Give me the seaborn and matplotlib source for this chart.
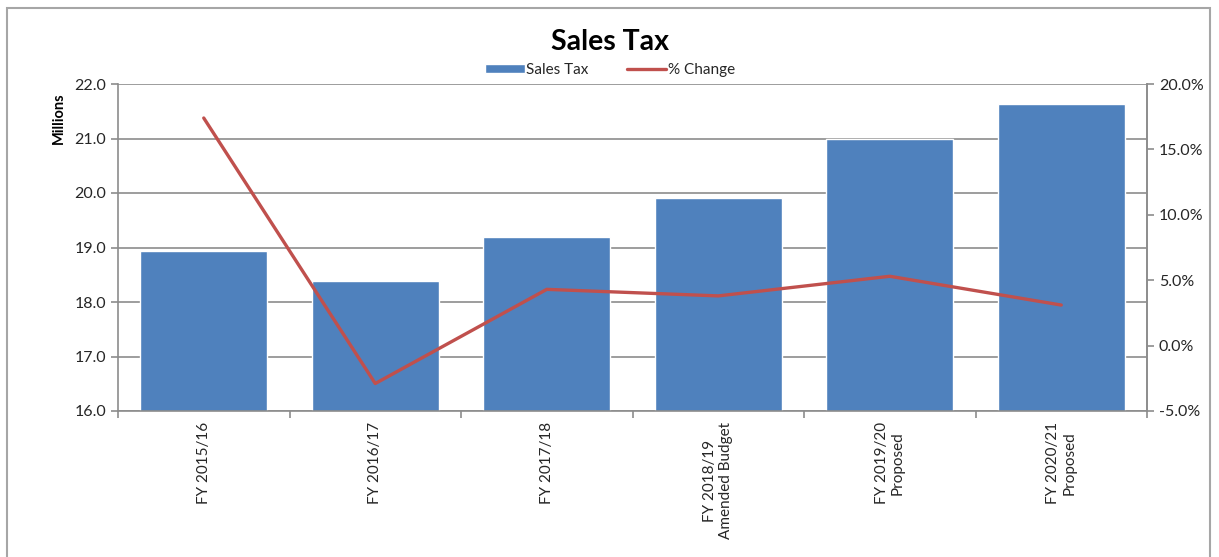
import matplotlib
matplotlib.use("Agg")
import matplotlib.pyplot as plt
import numpy as np
import pandas as pd
import seaborn as sns
from matplotlib.patches import Rectangle
from matplotlib.ticker import FuncFormatter

categories = [
    "FY 2015/16",
    "FY 2016/17",
    "FY 2017/18",
    "FY 2018/19\nAmended Budget",
    "FY 2019/20\nProposed",
    "FY 2020/21\nProposed",
]
sales_tax = [18.93, 18.39, 19.19, 19.91, 20.99, 21.63]
pct_change = [17.4, -2.9, 4.3, 3.8, 5.3, 3.1]

sns.set_theme(style="white")
plt.rcParams["font.family"] = ["Lato", "DejaVu Sans"]

df = pd.DataFrame({"Year": categories, "Sales Tax": sales_tax, "% Change": pct_change})

bar_color = "#4F81BD"
line_color = "#C0504D"
grid_color = "#8C8C8C"
text_color = "#262626"

fig = plt.figure(figsize=(12.19, 5.57), dpi=100)
fig.patch.set_facecolor("white")

# outer chart frame
fig.patches.append(Rectangle((7 / 1219, -0.05), 1203 / 1219, 1 - 8 / 557 + 0.05,
                             transform=fig.transFigure, fill=False,
                             edgecolor="#A6A6A6", linewidth=1.5))

ax = fig.add_axes([118 / 1219, 1 - 411 / 557, 1029 / 1219, 327 / 557])
sns.barplot(data=df, x="Year", y="Sales Tax", color=bar_color, width=0.74,
            saturation=1, ax=ax, label="Sales Tax")
ax.set_ylim(16, 22)
ax.set_xlim(-0.5, 5.5)
ax.set_yticks(np.arange(16, 22.1, 1))
ax.yaxis.set_major_formatter(FuncFormatter(lambda v, p: f"{v:.1f}"))
ax.grid(axis="y", color=grid_color, linewidth=1.2)
ax.set_axisbelow(True)
ax.set_xlabel("")
ax.set_ylabel("Millions", fontsize=10.5, fontweight="bold", color="black")
ax.yaxis.set_label_coords(-52 / 1029, 1 - 34 / 327)

ax.set_xticks(range(len(categories)))
ax.set_xticklabels(categories, rotation=90, fontsize=11, color=text_color,
                   multialignment="center")
ax.set_xticks(np.arange(-0.5, len(categories), 1), minor=True)
ax.tick_params(axis="x", which="major", length=0, pad=8)
ax.tick_params(axis="x", which="minor", length=5, color=grid_color, width=1.2,
               direction="out", bottom=True)
ax.tick_params(axis="y", length=5, color=grid_color, width=1.2, direction="out",
               left=True, labelsize=11.5, labelcolor=text_color)
for side in ["left", "bottom", "right", "top"]:
    ax.spines[side].set_color(grid_color)
    ax.spines[side].set_linewidth(1.2)
ax.spines["top"].set_visible(False)

ax2 = ax.twinx()
sns.lineplot(data=df, x="Year", y="% Change", color=line_color, linewidth=2.4,
             ax=ax2, label="% Change", sort=False)
ax2.set_ylim(-5, 20)
ax2.set_yticks(np.arange(-5, 20.1, 5))
ax2.yaxis.set_major_formatter(FuncFormatter(lambda v, p: f"{v:.1f}%"))
ax2.set_ylabel("")
ax2.tick_params(axis="y", length=5, color=grid_color, width=1.2, direction="out",
                right=True, labelsize=11.5, labelcolor=text_color)
for side in ["left", "bottom", "right", "top"]:
    ax2.spines[side].set_visible(False)
ax2.spines["right"].set_visible(True)
ax2.spines["right"].set_color(grid_color)
ax2.spines["right"].set_linewidth(1.2)
ax2.set_xlim(-0.5, 5.5)

h1, l1 = ax.get_legend_handles_labels()
h2, l2 = ax2.get_legend_handles_labels()
if ax2.get_legend():
    ax2.get_legend().remove()
if ax.get_legend():
    ax.get_legend().remove()
fig.legend(h1 + h2, l1 + l2, loc="center", bbox_to_anchor=(610 / 1219, 1 - 70 / 557),
           ncol=2, frameon=False, fontsize=11, handlelength=2.6, handleheight=0.6,
           handletextpad=0.1, columnspacing=2.5)

fig.text(610 / 1219, 1 - 42 / 557, "Sales Tax", ha="center", va="center",
         fontsize=20.5, fontweight="bold", color="black")

fig.savefig("out.png", dpi=100)
